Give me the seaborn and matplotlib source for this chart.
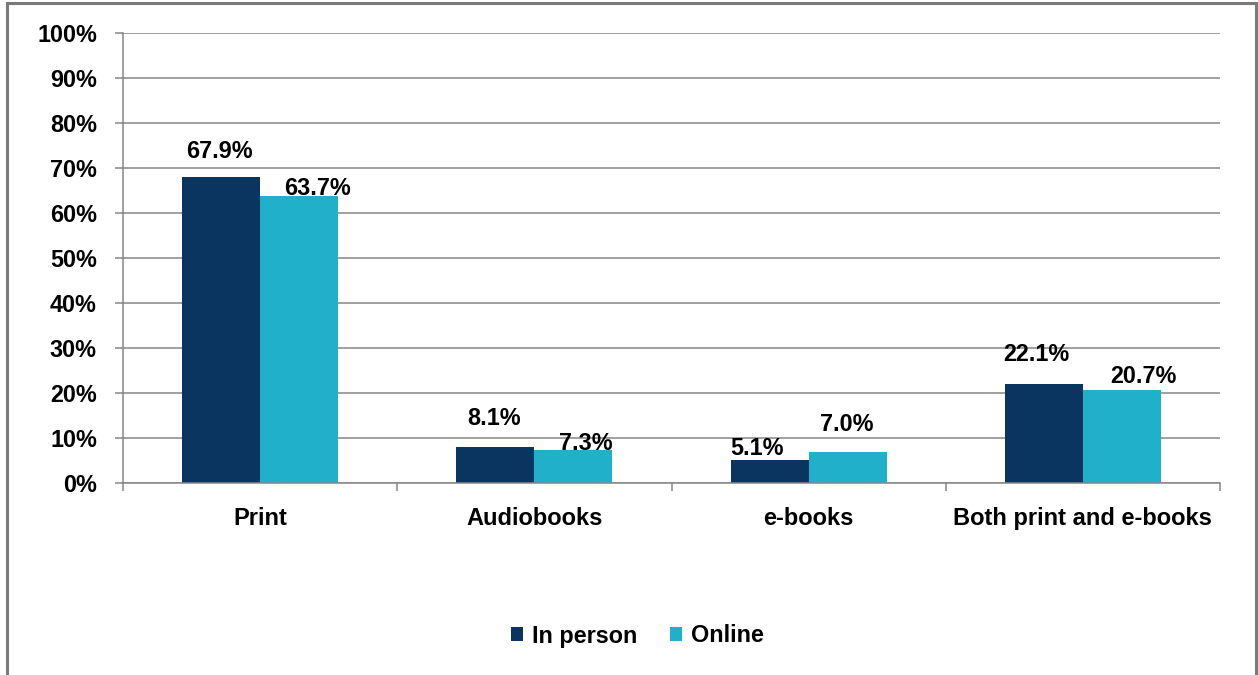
import matplotlib
matplotlib.use("Agg")
import matplotlib.pyplot as plt
import matplotlib.patches as mpatches
from matplotlib.ticker import MultipleLocator, FixedLocator, PercentFormatter
import seaborn as sns
import pandas as pd

# data
formatos = ["Print", "Audiobooks", "e-books", "Both print and e-books"]
series = ["In person", "Online"]
em_pessoa = [67.9, 8.1, 5.1, 22.1]
online = [63.7, 7.3, 7.0, 20.7]

C_ESCURO = "#0a3560"
C_TURQUESA = "#21b0c9"
C_GRADE = "#868686"

# offsets (pixels) of each value label from its bar top, as placed in the original
desloc = {
    "In person": [(-2, 26), (-1, 28), (-13, 12), (-7, 29)],
    "Online": [(18, 8), (12, 7), (-1, 27), (22, 13)],
}

df = pd.DataFrame({
    "Formato": formatos * 2,
    "Canal": [series[0]] * 4 + [series[1]] * 4,
    "Valor": em_pessoa + online,
})

sns.set_theme(style="white")
plt.rcParams["font.family"] = ["Liberation Sans", "DejaVu Sans"]
plt.rcParams["font.weight"] = "bold"
plt.rcParams["text.color"] = "black"
plt.rcParams["xtick.color"] = "black"
plt.rcParams["ytick.color"] = "black"

fig = plt.figure(figsize=(12.58, 6.75), dpi=100)
ax = fig.add_axes([123 / 1258, 1 - 483 / 675, (1220 - 123) / 1258, 450 / 675])

sns.barplot(data=df, x="Formato", y="Valor", hue="Canal", order=formatos,
            hue_order=series, palette=[C_ESCURO, C_TURQUESA], width=0.569,
            gap=0, saturation=1, ax=ax, linewidth=0)

ax.set_ylim(0, 100)
ax.set_xlim(-0.5, 3.5)
ax.yaxis.set_major_locator(MultipleLocator(10))
ax.yaxis.set_major_formatter(PercentFormatter(decimals=0))
ax.grid(axis="y", color=C_GRADE, linewidth=1.1)
ax.set_axisbelow(True)

for lado in ["top", "right"]:
    ax.spines[lado].set_visible(False)
for lado in ["left", "bottom"]:
    ax.spines[lado].set_color(C_GRADE)
    ax.spines[lado].set_linewidth(1.1)

ax.tick_params(axis="y", direction="out", length=5.8, width=1.1, color=C_GRADE,
               pad=13, labelsize=16.8, left=True, labelcolor="black")
ax.tick_params(axis="x", which="major", length=0, pad=17, labelsize=17,
               labelcolor="black")
ax.xaxis.set_minor_locator(FixedLocator([-0.5, 0.5, 1.5, 2.5, 3.5]))
ax.tick_params(axis="x", which="minor", direction="out", length=5.8, width=1.1,
               color=C_GRADE, bottom=True)
for t in ax.get_xticklabels() + ax.get_yticklabels():
    t.set_fontweight("bold")
ax.set_xlabel("")
ax.set_ylabel("")

for cont, nome in zip(ax.containers, series):
    for barra, (dx, dy) in zip(cont, desloc[nome]):
        h = barra.get_height()
        ax.annotate(f"{h:.1f}%", (barra.get_x() + barra.get_width() / 2, h),
                    xytext=(dx, dy), textcoords="offset pixels",
                    ha="center", va="center", fontsize=16.8, fontweight="bold",
                    color="black")

handles, labels = ax.get_legend_handles_labels()
ax.get_legend().remove()
fig.legend(handles, labels, loc="center", bbox_to_anchor=(637 / 1258, 1 - 636 / 675),
           ncol=2, frameon=False, fontsize=16.8, handlelength=0.55, handleheight=0.55,
           handletextpad=0.35, columnspacing=1.4, labelcolor="black")

# grey outer frame, bottom edge runs off the picture
moldura = mpatches.Rectangle((7 / 1258, -0.05), (1256 - 7) / 1258, 1.05 - 3 / 675,
                             transform=fig.transFigure, fill=False,
                             edgecolor="#7a7a7a", linewidth=2.2)
fig.patches.append(moldura)

fig.savefig("out.png", dpi=100)
plt.close(fig)
